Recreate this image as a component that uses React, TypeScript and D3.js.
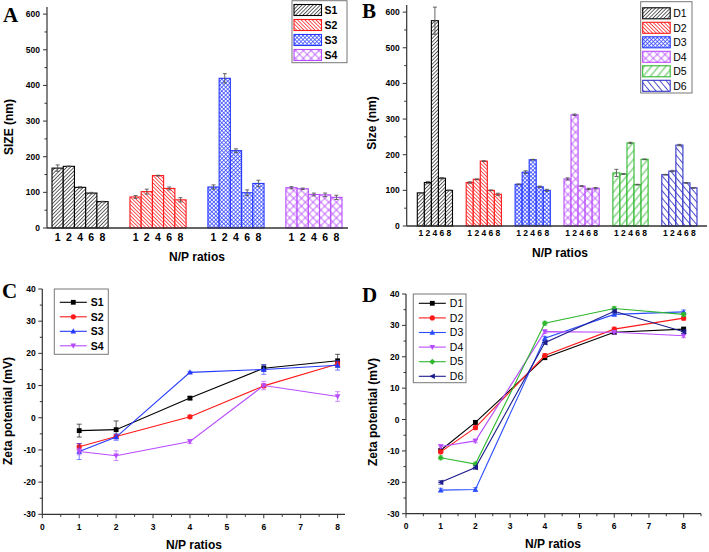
import React from "react";
import * as d3 from "d3";

// ---------- DATA ----------
const ratioLabels = ["1", "2", "4", "6", "8"];
const ratios = [1, 2, 4, 6, 8];

const sNames = ["S1", "S2", "S3", "S4"];
const sizeS1 = [168, 173, 114, 98, 74];
const sizeS2 = [87, 102, 147, 111, 79];
const sizeS3 = [115, 420, 217, 99, 125];
const sizeS4 = [113, 110, 94, 93, 86];
const errS1 = [9, 1, 2, 2, 1];
const errS2 = [4, 7, 1, 4, 6];
const errS3 = [6, 13, 5, 8, 9];
const errS4 = [3, 2, 4, 5, 6];

const dNames = ["D1", "D2", "D3", "D4", "D5", "D6"];
const sizeD1 = [93, 122, 576, 134, 100];
const sizeD2 = [122, 131, 182, 100, 89];
const sizeD3 = [117, 151, 186, 110, 100];
const sizeD4 = [132, 312, 112, 104, 106];
const sizeD5 = [149, 146, 233, 116, 187];
const sizeD6 = [144, 154, 227, 121, 107];
const errD1 = [1, 3, 38, 2, 1];
const errD2 = [2, 1, 1, 1, 3];
const errD3 = [1, 4, 1, 2, 3];
const errD4 = [3, 2, 1, 2, 2];
const errD5 = [10, 1, 2, 1, 1];
const errD6 = [1, 2, 2, 1, 1];

const zetaS1 = [-4, -3.7, 6.1, 15.4, 17.7];
const zetaS2 = [-9, -5.8, 0.3, 9.9, 16.7];
const zetaS3 = [-10.5, -6, 14.1, 15, 16.3];
const zetaS4 = [-10.5, -11.8, -7.4, 10, 6.6];
const zErrS1 = [2, 2.7, 0.5, 1, 2];
const zErrS2 = [1, 0.5, 0.5, 0.5, 0.8];
const zErrS3 = [2.5, 1, 0.3, 1.5, 1.5];
const zErrS4 = [1, 1.5, 0.6, 1.3, 1.5];

const zetaD1 = [-9.8, -0.9, 19.7, 27.8, 28.8];
const zetaD2 = [-10.3, -2.6, 20.4, 28.8, 32.3];
const zetaD3 = [-22.5, -22.3, 25.9, 33.5, 34.3];
const zetaD4 = [-8.6, -6.8, 28, 27.8, 26.7];
const zetaD5 = [-12.2, -14.2, 30.7, 35.4, 33.5];
const zetaD6 = [-20, -15.3, 24.5, 34.5, 28];
const zErrD = [0.6, 0.6, 0.6, 0.6, 0.6];

const sizeTicks = [0, 100, 200, 300, 400, 500, 600];
const zetaTicks = [-30, -20, -10, 0, 10, 20, 30, 40];
const npTicks = [0, 1, 2, 3, 4, 5, 6, 7, 8];

// ---------- STYLE ----------
const FONT = "'Liberation Sans', Arial, sans-serif";
const SERIF = "'Liberation Serif', 'Times New Roman', serif";
const sColors = ["#000000", "#ff1a1a", "#2438ff", "#b84cff"];
const dColors = ["#000000", "#ff1a1a", "#2438ff", "#b84cff", "#2fb82f", "#3434c8"];
const dLineColors = ["#000000", "#ff1a1a", "#2a4cff", "#b84cff", "#2fb82f", "#1c1c8c"];
const patIds = ["pBlack", "pRed", "pBlue", "pPurple", "pGreen", "pNavy"];

type PatDef = { id: string; color: string; spacing: number; rot: number; cross: boolean; sw: number };
const patDefs: PatDef[] = [
  { id: "pBlack", color: "#222", spacing: 2.6, rot: 45, cross: false, sw: 0.7 },
  { id: "pRed", color: "#ff1a1a", spacing: 2.6, rot: -45, cross: false, sw: 0.75 },
  { id: "pBlue", color: "#2438ff", spacing: 2.8, rot: 45, cross: true, sw: 0.7 },
  { id: "pPurple", color: "#b84cff", spacing: 5.5, rot: 45, cross: true, sw: 0.8 },
  { id: "pGreen", color: "#2fb82f", spacing: 5.5, rot: 40, cross: false, sw: 0.85 },
  { id: "pNavy", color: "#3434c8", spacing: 4.8, rot: -40, cross: false, sw: 0.85 },
];

function Patterns() {
  return (
    <defs>
      {patDefs.map((p) => (
        <pattern key={p.id} id={p.id} width={p.spacing} height={p.spacing} patternUnits="userSpaceOnUse" patternTransform={`rotate(${p.rot})`}>
          <rect width={p.spacing} height={p.spacing} fill="#fff" />
          <line x1={p.spacing / 2} y1={0} x2={p.spacing / 2} y2={p.spacing} stroke={p.color} strokeWidth={p.sw} />
          {p.cross && <line x1={0} y1={p.spacing / 2} x2={p.spacing} y2={p.spacing / 2} stroke={p.color} strokeWidth={p.sw} />}
        </pattern>
      ))}
    </defs>
  );
}

type BarProps = {
  xLeft: number; xRight: number; barL: number; barR: number; yBase: number; yTop: number;
  series: number[][]; errs: number[][]; colors: string[]; names: string[];
  catFont: number; catY: number; title: string; titleX: number; titleY: number;
  npX: number; npY: number; letter: string; letterX: number; letterY: number;
  legend: { x: number; y: number; w: number; h: number; step: number; first: number; bold: boolean };
};

function BarPanel(p: BarProps) {
  const y = d3.scaleLinear().domain([0, 620]).range([p.yBase, p.yTop]);
  const gx = d3.scaleBand<number>().domain(d3.range(p.series.length)).range([p.barL, p.barR]).paddingInner(0.28).paddingOuter(0);
  const bx = d3.scaleBand<number>().domain(d3.range(ratios.length)).range([0, gx.bandwidth()]);
  const minor = d3.range(50, 620, 100);
  return (
    <g>
      {p.series.map((vals, si) => (
        <g key={si} transform={`translate(${gx(si)},0)`}>
          {vals.map((v, i) => (
            <rect key={i} x={bx(i)} y={y(v)} width={bx.bandwidth()} height={p.yBase - y(v)} fill={`url(#${patIds[si]})`} stroke={p.colors[si]} strokeWidth={1.1} />
          ))}
          {vals.map((v, i) => {
            const cx = (bx(i) as number) + bx.bandwidth() / 2;
            const e = p.errs[si][i];
            return (
              <g key={"e" + i} stroke="#555" strokeWidth={0.9}>
                <line x1={cx} x2={cx} y1={y(v - e)} y2={y(v + e)} />
                <line x1={cx - 2} x2={cx + 2} y1={y(v + e)} y2={y(v + e)} />
                <line x1={cx - 2} x2={cx + 2} y1={y(v - e)} y2={y(v - e)} />
              </g>
            );
          })}
          {ratioLabels.map((t, i) => (
            <text key={"t" + i} x={(bx(i) as number) + bx.bandwidth() / 2} y={p.catY} textAnchor="middle" fontSize={p.catFont} fontWeight="bold" fontFamily={FONT}>{t}</text>
          ))}
        </g>
      ))}
      <line x1={p.xLeft} x2={p.xRight} y1={p.yBase} y2={p.yBase} stroke="#333" strokeWidth={1.4} />
      <line x1={p.xLeft} x2={p.xLeft} y1={p.yBase} y2={p.yTop} stroke="#333" strokeWidth={1.2} />
      {sizeTicks.map((t) => (
        <g key={t}>
          <line x1={p.xLeft - 4} x2={p.xLeft} y1={y(t)} y2={y(t)} stroke="#333" />
          <text x={p.xLeft - 7} y={y(t)} dy="0.35em" textAnchor="end" fontSize={8.5} fontWeight="bold" fontFamily={FONT}>{t}</text>
        </g>
      ))}
      {minor.map((t) => (
        <line key={"m" + t} x1={p.xLeft - 2.5} x2={p.xLeft} y1={y(t)} y2={y(t)} stroke="#333" />
      ))}
      <text transform={`translate(${p.titleX},${p.titleY}) rotate(-90)`} textAnchor="middle" fontSize={12} fontWeight="bold" fontFamily={FONT}>{p.title}</text>
      <text x={p.npX} y={p.npY} textAnchor="middle" fontSize={12} fontWeight="bold" fontFamily={FONT}>N/P ratios</text>
      <text x={p.letterX} y={p.letterY} fontSize={21} fontWeight="bold" fontFamily={SERIF}>{p.letter}</text>
      <g>
        <rect x={p.legend.x} y={p.legend.y} width={p.legend.w} height={p.legend.h} fill="#fff" stroke="#777" strokeWidth={1} />
        {p.names.map((n, i) => {
          const cy = p.legend.first + i * p.legend.step;
          return (
            <g key={n}>
              <rect x={p.legend.x + 2} y={cy - 5.5} width={27.5} height={11} fill={`url(#${patIds[i]})`} stroke={p.colors[i]} strokeWidth={1.1} />
              <text x={p.legend.x + 32.5} y={cy} dy="0.36em" fontSize={10.5} fontWeight={p.legend.bold ? "bold" : "normal"} fontFamily={FONT}>{n}</text>
            </g>
          );
        })}
      </g>
    </g>
  );
}

function Marker({ kind, x, y, color }: { kind: number; x: number; y: number; color: string }) {
  const s = 2.4;
  if (kind === 0) return <rect x={x - s} y={y - s} width={2 * s} height={2 * s} fill={color} />;
  if (kind === 1) return <circle cx={x} cy={y} r={s + 0.2} fill={color} />;
  if (kind === 2) return <path d={`M${x},${y - s - 0.6}L${x + s + 0.4},${y + s - 0.2}L${x - s - 0.4},${y + s - 0.2}Z`} fill={color} />;
  if (kind === 3) return <path d={`M${x},${y + s + 0.6}L${x + s + 0.4},${y - s + 0.2}L${x - s - 0.4},${y - s + 0.2}Z`} fill={color} />;
  if (kind === 4) return <path d={`M${x},${y - s - 0.6}L${x + s + 0.6},${y}L${x},${y + s + 0.6}L${x - s - 0.6},${y}Z`} fill={color} />;
  return <path d={`M${x - s - 0.6},${y}L${x + s + 0.2},${y - s - 0.4}L${x + s + 0.2},${y + s + 0.4}Z`} fill={color} />;
}

type LineProps = {
  xRange: [number, number]; xMax: number; yRange: [number, number];
  series: number[][]; errs: number[][]; colors: string[]; names: string[];
  tickLabelY: number; npX: number; npY: number; titleX: number; titleY: number;
  letter: string; letterX: number; letterY: number;
  legend: { x: number; y: number; w: number; h: number; first: number; step: number; bold: boolean };
};

function LinePanel(p: LineProps) {
  const x = d3.scaleLinear().domain([0, p.xMax]).range(p.xRange);
  const y = d3.scaleLinear().domain([-30, 40]).range(p.yRange);
  const line = d3.line<number>().x((_, i) => x(ratios[i])).y((d) => y(d));
  const x0 = p.xRange[0];
  const yb = p.yRange[0];
  const minorY = d3.range(-25, 40, 10);
  const minorX = d3.range(0.5, p.xMax + 0.01, 1);
  return (
    <g>
      <line x1={x0} x2={p.xRange[1]} y1={yb} y2={yb} stroke="#333" strokeWidth={1.2} />
      <line x1={x0} x2={x0} y1={yb} y2={p.yRange[1]} stroke="#333" strokeWidth={1.2} />
      {zetaTicks.map((t) => (
        <g key={t}>
          <line x1={x0 - 4} x2={x0} y1={y(t)} y2={y(t)} stroke="#333" />
          <text x={x0 - 6.5} y={y(t)} dy="0.35em" textAnchor="end" fontSize={8.5} fontWeight="bold" fontFamily={FONT}>{t}</text>
        </g>
      ))}
      {minorY.map((t) => <line key={"my" + t} x1={x0 - 2.5} x2={x0} y1={y(t)} y2={y(t)} stroke="#333" />)}
      {npTicks.map((t) => (
        <g key={"x" + t}>
          <line x1={x(t)} x2={x(t)} y1={yb} y2={yb + 4} stroke="#333" />
          <text x={x(t)} y={p.tickLabelY} textAnchor="middle" fontSize={8.5} fontWeight="bold" fontFamily={FONT}>{t}</text>
        </g>
      ))}
      {minorX.map((t) => <line key={"mx" + t} x1={x(t)} x2={x(t)} y1={yb} y2={yb + 2.5} stroke="#333" />)}
      {p.series.map((vals, si) => (
        <g key={si}>
          <path d={line(vals) || ""} fill="none" stroke={p.colors[si]} strokeWidth={1.1} />
          {vals.map((v, i) => {
            const e = p.errs[si][i];
            const cx = x(ratios[i]);
            return (
              <g key={i} stroke={p.colors[si]} strokeWidth={0.8} opacity={0.8}>
                <line x1={cx} x2={cx} y1={y(v - e)} y2={y(v + e)} />
                <line x1={cx - 2.5} x2={cx + 2.5} y1={y(v + e)} y2={y(v + e)} />
                <line x1={cx - 2.5} x2={cx + 2.5} y1={y(v - e)} y2={y(v - e)} />
              </g>
            );
          })}
          {vals.map((v, i) => <Marker key={"m" + i} kind={si} x={x(ratios[i])} y={y(v)} color={p.colors[si]} />)}
        </g>
      ))}
      <text transform={`translate(${p.titleX},${p.titleY}) rotate(-90)`} textAnchor="middle" fontSize={12} fontWeight="bold" fontFamily={FONT}>Zeta potential (mV)</text>
      <text x={p.npX} y={p.npY} textAnchor="middle" fontSize={12} fontWeight="bold" fontFamily={FONT}>N/P ratios</text>
      <text x={p.letterX} y={p.letterY} fontSize={21} fontWeight="bold" fontFamily={SERIF}>{p.letter}</text>
      <rect x={p.legend.x} y={p.legend.y} width={p.legend.w} height={p.legend.h} fill="#fff" stroke="#777" strokeWidth={1} />
      {p.names.map((n, i) => {
        const cy = p.legend.first + i * p.legend.step;
        const lx = p.legend.x + 5.5;
        return (
          <g key={n}>
            <line x1={lx} x2={lx + 27} y1={cy} y2={cy} stroke={p.colors[i]} strokeWidth={1.1} />
            <Marker kind={i} x={lx + 13.5} y={cy} color={p.colors[i]} />
            <text x={lx + 31} y={cy} dy="0.36em" fontSize={10.5} fontWeight={p.legend.bold ? "bold" : "normal"} fontFamily={FONT}>{n}</text>
          </g>
        );
      })}
    </g>
  );
}

export default function App() {
  return (
    <svg width={709} height={552} style={{ position: "absolute", left: 0, top: 0, background: "#fff" }}>
      <Patterns />
      <BarPanel
        xLeft={47} xRight={348} barL={52} barR={342} yBase={228} yTop={7}
        series={[sizeS1, sizeS2, sizeS3, sizeS4]} errs={[errS1, errS2, errS3, errS4]}
        colors={sColors} names={sNames} catFont={10.5} catY={241}
        title="SIZE (nm)" titleX={13} titleY={127} npX={197} npY={261}
        letter="A" letterX={3} letterY={22}
        legend={{ x: 292, y: 0.7, w: 55, h: 62, step: 15, first: 10, bold: true }}
      />
      <BarPanel
        xLeft={406.7} xRight={707} barL={417.3} barR={697} yBase={226} yTop={5}
        series={[sizeD1, sizeD2, sizeD3, sizeD4, sizeD5, sizeD6]} errs={[errD1, errD2, errD3, errD4, errD5, errD6]}
        colors={dColors} names={dNames} catFont={8.5} catY={236}
        title="Size (nm)" titleX={376} titleY={123} npX={560} npY={257}
        letter="B" letterX={362} letterY={18}
        legend={{ x: 640.7, y: 1.7, w: 51.3, h: 91.3, step: 14.5, first: 13.3, bold: false }}
      />
      <LinePanel
        xRange={[42.3, 345]} xMax={8.2} yRange={[514.3, 289]}
        series={[zetaS1, zetaS2, zetaS3, zetaS4]} errs={[zErrS1, zErrS2, zErrS3, zErrS4]}
        colors={sColors} names={sNames} tickLabelY={530} npX={194} npY={549}
        titleX={12} titleY={411} letter="C" letterX={2} letterY={298}
        legend={{ x: 54.3, y: 289, w: 54, h: 65.3, first: 302.3, step: 14.5, bold: true }}
      />
      <LinePanel
        xRange={[406, 701]} xMax={8.5} yRange={[513.7, 294]}
        series={[zetaD1, zetaD2, zetaD3, zetaD4, zetaD5, zetaD6]} errs={[zErrD, zErrD, zErrD, zErrD, zErrD, zErrD]}
        colors={dLineColors} names={dNames} tickLabelY={529} npX={553} npY={548}
        titleX={377} titleY={412} letter="D" letterX={362} letterY={302}
        legend={{ x: 413.3, y: 294, w: 52.7, h: 88.7, first: 303.3, step: 14.6, bold: false }}
      />
    </svg>
  );
}
